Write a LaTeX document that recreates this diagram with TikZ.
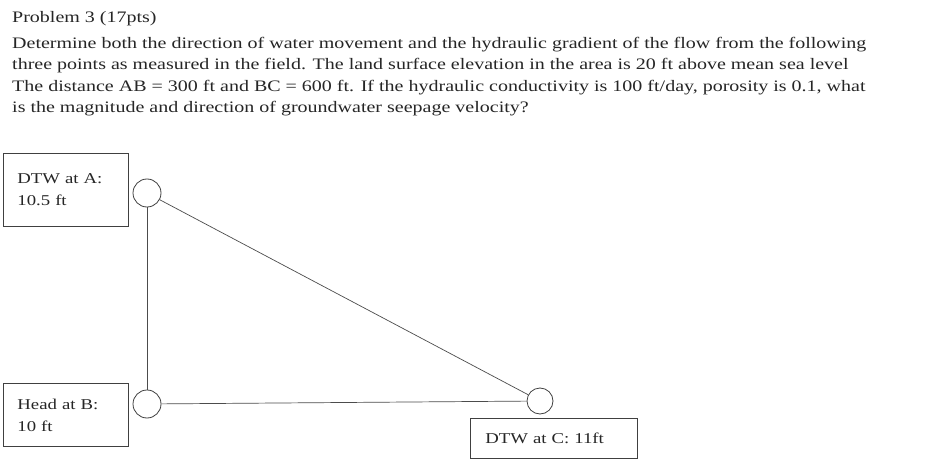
\documentclass[tikz,border=0pt]{standalone}
\usepackage{fontspec}
\setmainfont{Liberation Serif}[FakeStretch=1.25]
\usetikzlibrary{positioning}

\begin{document}
\begin{tikzpicture}[x=1pt, y=-1pt,
  every node/.style={font=\fontsize{16}{21.4}\selectfont, text=black!85},
  infobox/.style={draw=black!75, line width=0.9pt, inner sep=0pt, font=\fontsize{15}{22}\selectfont},
  well/.style={draw=black!75, circle, line width=0.8pt, inner sep=0pt},
  link/.style={draw=black!70, line width=0.7pt}]
\useasboundingbox[fill=white] (0,0) rectangle (945,473);

% 题目
\node[anchor=base west, inner sep=0pt] (title) at (12,23) {Problem 3 (17pts)};
\node[anchor=north west, inner sep=0pt, align=left] (question) at (12,37)
  {Determine both the direction of water movement and the hydraulic gradient of the flow from the following\\
   three points as measured in the field. The land surface elevation in the area is 20 ft above mean sea level\\
   The distance AB = 300 ft and BC = 600 ft. If the hydraulic conductivity is 100 ft/day, porosity is 0.1, what\\
   is the magnitude and direction of groundwater seepage velocity?};

% 三个观测井
\node[well, minimum size=28pt] (a) at (147,193) {};
\node[well, minimum size=28pt] (b) at (147,404) {};
\node[well, minimum size=26pt] (c) at (540,401) {};

% 信息框
\node[infobox, anchor=north west, minimum width=125pt, minimum height=73pt,
  text width=97pt, align=left] (boxa) at (3,153) {DTW at A:\\10.5 ft};
\node[infobox, anchor=north west, minimum width=125pt, minimum height=63pt,
  text width=97pt, align=left] (boxb) at (3,383) {Head at B:\\10 ft};
\node[infobox, anchor=north west, minimum width=167pt, minimum height=40pt,
  text width=137pt, align=left] (boxc) at (470,418) {DTW at C: 11ft};

% 连线
\draw[link] (a) -- (b);
\draw[link] (b) -- (c);
\draw[link] (a) -- (c);
\end{tikzpicture}
\end{document}
